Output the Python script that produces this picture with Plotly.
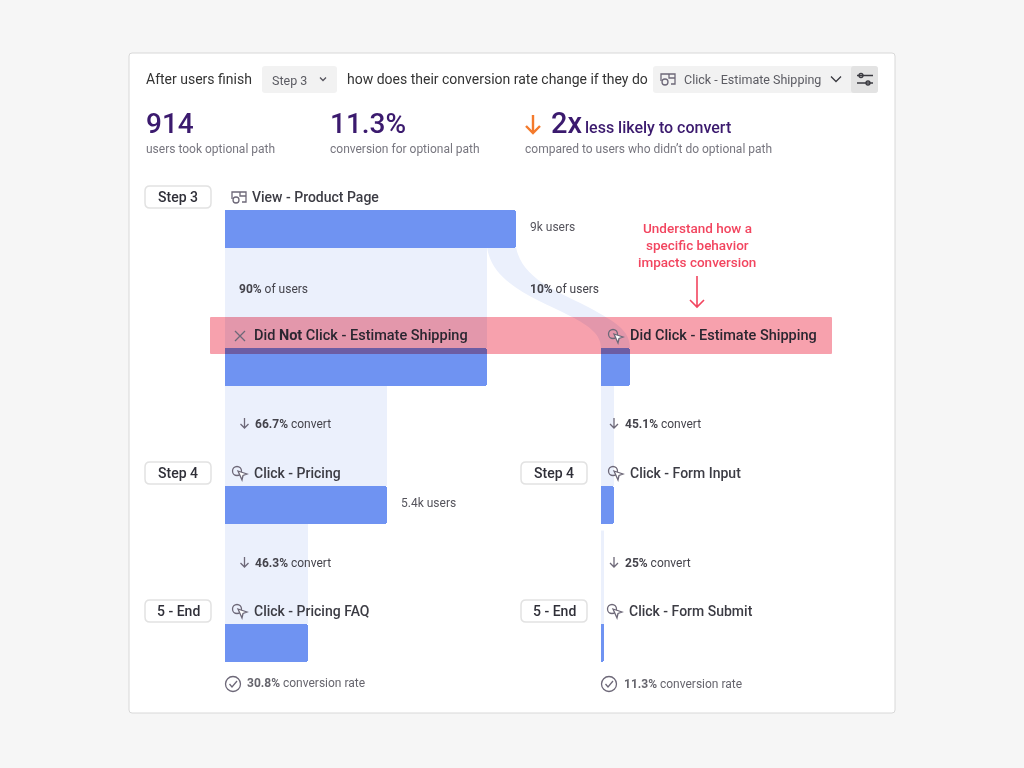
import plotly.graph_objects as go

#--------------------------------------------------
#   data
#--------------------------------------------------
rows = [0, 1, 2, 3]
took_path_no = [9000, 8100, 5000, 2570]   # did not click column
took_path_yes = [900, 400, 90]            # did click column

step_labels = ['Step 3', 'Step 4', '5 - End']
left_names = ['View - Product Page', 'Click - Pricing', 'Click - Pricing FAQ']
right_names = ['Click - Form Input', 'Click - Form Submit']
left_convert = ['66.7%', '46.3%']
right_convert = ['45.1%', '25%']
final_rates = ['30.8%', '11.3%']

#--------------------------------------------------
#   colours, fonts, axis scaling
#--------------------------------------------------
FONT = 'Roboto'
BLUE = '#6f93f2'
BAND = '#ebf0fc'
RED = '#f2455f'
PINK = '#f7a1ad'
PURPLE = '#3b1a6e'
DARK = '#2f2f38'
GREY = '#77767f'
ICON = '#6d6878'

W, H = 1024, 768
users_per_px = 9000 / 291
row_px = 138
row0_px = 228.5
bar_h = 38

shapes = []
notes = []


def text(x, y, s, size=12, color=DARK, weight=400, anchor='left'):
    notes.append(dict(x=x, y=y, xref='x', yref='y', text=s, showarrow=False, xanchor=anchor, yanchor='middle',
                      borderpad=0, borderwidth=0,
                      font=dict(family=FONT, size=size, color=color, weight=weight)))


def stroke(path, color=ICON, width=1.3, fill='rgba(0,0,0,0)'):
    shapes.append(dict(type='path', path=path, xref='x', yref='y', line=dict(color=color, width=width), fillcolor=fill))


def box(x0, y0, x1, y1, r=3, fill='white', line='rgba(0,0,0,0)', width=1, layer='above'):
    p = (f'M{x0 + r},{y0} L{x1 - r},{y0} Q{x1},{y0} {x1},{y0 + r} L{x1},{y1 - r} Q{x1},{y1} {x1 - r},{y1} '
         f'L{x0 + r},{y1} Q{x0},{y1} {x0},{y1 - r} L{x0},{y0 + r} Q{x0},{y0} {x0 + r},{y0} Z')
    shapes.append(dict(type='path', path=p, xref='x', yref='y', fillcolor=fill, line=dict(color=line, width=width), layer=layer))


def circle(cx, cy, r, color=ICON, width=1.3):
    shapes.append(dict(type='circle', x0=cx - r, x1=cx + r, y0=cy - r, y1=cy + r, xref='x', yref='y',
                       line=dict(color=color, width=width)))


def cursor_icon(cx, cy):
    circle(cx - 3, cy - 2, 4.5)
    stroke(f'M{cx - 2},{cy - 2} L{cx + 7},{cy + 1} L{cx + 3},{cy + 2.5} L{cx + 2},{cy + 7} Z', fill='white')


def view_icon(cx, cy):
    stroke(f'M{cx - 7},{cy + 2} L{cx - 7},{cy - 5} L{cx + 7},{cy - 5} L{cx + 7},{cy + 5} L{cx + 3},{cy + 5}')
    stroke(f'M{cx + 1},{cy - 5} L{cx + 1},{cy - 1} L{cx + 7},{cy - 1}')
    circle(cx - 3, cy + 3, 3)


def down_arrow(cx, y0, y1, color=ICON, width=1.3, head=4):
    stroke(f'M{cx},{y0} L{cx},{y1} M{cx - head},{y1 - head} L{cx},{y1} L{cx + head},{y1 - head}', color=color, width=width)


def chevron(cx, cy, s=4, color='#55535c', width=1.3):
    stroke(f'M{cx - s},{cy - s / 2} L{cx},{cy + s / 2} L{cx + s},{cy - s / 2}', color=color, width=width)


def check_icon(cx, cy):
    circle(cx, cy, 7.5)
    stroke(f'M{cx - 3.5},{cy} L{cx - 1},{cy + 3} L{cx + 4},{cy - 3}')


def chip(x0, cy, s):
    box(x0, cy - 11, x0 + 66, cy + 11, r=5, fill='white', line='#e2e2e2', width=1.5)
    text(x0 + 33, cy, s, size=14, weight=500, anchor='center')


#--------------------------------------------------
#   card and header
#--------------------------------------------------
box(129, 53, 895, 713, r=3, fill='white', line='#d8d8d8', layer='below')

text(146, 79, 'After users finish', size=14, color='#333')
box(262, 66, 337, 93, fill='#f2f2f2')
text(272, 80, 'Step 3', size=12.5, color='#5b5b62')
chevron(323, 79, s=3)
text(347, 79, 'how does their conversion rate change if they do', size=14, color='#333')
box(653, 66, 878, 93, fill='#f2f2f2')
box(851, 66, 878, 93, fill='#e3e3e3')
view_icon(668, 79)
text(684, 79, 'Click - Estimate Shipping', size=12.5, color='#5b5b62')
chevron(836, 79, s=5, color='#3a3a40')
stroke('M857,75.5 L873,75.5 M857,83 L873,83', color='#3a3a40')
circle(861, 75.5, 2, color='#3a3a40')
circle(868, 83, 2, color='#3a3a40')

text(146, 123, '914', size=28, color=PURPLE, weight=500)
text(330, 123, '11.3%', size=28, color=PURPLE, weight=500)
down_arrow(533, 115, 133, color='#f47a2c', width=2.4, head=7)
text(551, 123, '2x', size=29, color=PURPLE, weight=500)
text(585, 127, 'less likely to convert', size=16, color=PURPLE, weight=500)
text(146, 149, 'users took optional path', size=12, color=GREY)
text(330, 149, 'conversion for optional path', size=12, color=GREY)
text(525, 149, 'compared to users who didn’t do optional path', size=12, color=GREY)

#--------------------------------------------------
#   flow from the first bar across to the right column
#--------------------------------------------------
shapes.append(dict(type='path', xref='x', yref='y', layer='below', fillcolor=BAND, line=dict(width=0),
                   path='M487,247 C492,285 540,300 570,316 C590,326 601,335 601,348 L630,348 '
                        'C630,330 615,322 590,308 C560,292 522,280 516,247 Z'))

#--------------------------------------------------
#   highlight strip (multiplied over the funnel in the page, see post_script)
#--------------------------------------------------
box(210, 317, 832, 354, r=1, fill=PINK)
# small gap at the top of the last right band
box(600, 524, 606, 530.5, r=0)

#--------------------------------------------------
#   labels
#--------------------------------------------------
chip(145, 197, step_labels[0])
chip(145, 473, step_labels[1])
chip(145, 611, step_labels[2])
chip(521, 473, step_labels[1])
chip(521, 611, step_labels[2])

view_icon(239, 197)
text(252, 197, left_names[0], size=14, weight=500, color='#3c3c44')
text(530, 227, '9k users', size=12, color='#55545c')
text(239, 289, '<b>90%</b> of users', size=12, color='#44434b')
text(530, 289, '<b>10%</b> of users', size=12, color='#44434b')

for i, line in enumerate(['Understand how a', 'specific behavior', 'impacts conversion']):
    text(697, 228 + 17 * i, line, size=13.5, color=RED, weight=500, anchor='center')
down_arrow(697, 276, 307, color=RED, width=1.6, head=7)

stroke('M235,331 L245,341 M245,331 L235,341')
text(254, 335, 'Did <b>Not</b> Click - Estimate Shipping', size=14.5, weight=500, color='#2a2630')
cursor_icon(616, 336)
text(630, 335, 'Did Click - Estimate Shipping', size=14.5, weight=500, color='#2a2630')

for cy, cx, name in [(473, 240, left_names[1]), (611, 240, left_names[2])]:
    cursor_icon(cx, cy)
    text(cx + 14, cy, name, size=14, weight=500, color='#3c3c44')
for cy, cx, name in [(473, 616, right_names[0]), (611, 615, right_names[1])]:
    cursor_icon(cx, cy)
    text(cx + 14, cy, name, size=14, weight=500, color='#3c3c44')

text(401, 503, '5.4k users', size=12, color='#55545c')

for cy, pct in zip([424, 563], left_convert):
    down_arrow(244.5, cy - 6, cy + 4)
    text(255, cy, f'<b>{pct}</b> convert', size=12, color='#44434b')
for cy, pct in zip([424, 563], right_convert):
    down_arrow(614, cy - 6, cy + 4)
    text(625, cy, f'<b>{pct}</b> convert', size=12, color='#44434b')

check_icon(233, 684)
text(247, 683, f'<b>{final_rates[0]}</b> conversion rate', size=12, color='#66656d')
check_icon(609, 684)
text(624, 684, f'<b>{final_rates[1]}</b> conversion rate', size=12, color='#66656d')

#--------------------------------------------------
#   plotting
#--------------------------------------------------
fig = go.Figure()


def add_bars(values, y, xaxis, color, width_px, radius=0):
    fig.add_trace(go.Bar(x=values, y=y, orientation='h', width=width_px / row_px, xaxis=xaxis, yaxis='y2',
                         marker=dict(color=color, cornerradius=radius, line=dict(width=0)),
                         hoverinfo='skip', showlegend=False))


# each band runs above its bar, as wide as the bar it leads into
band_h = row_px - bar_h
add_bars(took_path_no[1:], [r - 0.5 for r in rows[1:]], 'x2', BAND, band_h)
add_bars(took_path_yes[1:], [r - 0.5 for r in rows[2:]], 'x3', BAND, band_h)
add_bars(took_path_no, rows, 'x2', BLUE, bar_h, radius=3)
add_bars(took_path_yes, rows[1:], 'x3', BLUE, bar_h, radius=3)

hidden = dict(visible=False, domain=[0, 1], fixedrange=True)
fig.update_layout(
    width=W, height=H, margin=dict(l=0, r=0, t=0, b=0), autosize=False,
    paper_bgcolor='#f6f6f6', plot_bgcolor='rgba(0,0,0,0)',
    barmode='overlay', bargap=0, showlegend=False,
    shapes=shapes, annotations=notes,
    xaxis=dict(range=[0, W], **hidden),
    yaxis=dict(range=[H, 0], **hidden),
    xaxis2=dict(range=[-225 * users_per_px, (W - 225) * users_per_px], overlaying='x', **hidden),
    xaxis3=dict(range=[-601 * users_per_px, (W - 601) * users_per_px], overlaying='x', **hidden),
    yaxis2=dict(range=[(H - row0_px) / row_px, -row0_px / row_px], overlaying='y', **hidden),
)

page_js = """
document.body.style.margin = '0';
document.querySelectorAll('.shapelayer path').forEach(function (p) {
    if (p.style.fill.replace(/ /g, '') === 'rgb(247,161,173)') {
        // the clip-path on the shape's group isolates it, so blend the group
        var g = p.parentNode;
        while (g && !g.classList.contains('shapelayer')) { g.style.mixBlendMode = 'multiply'; g = g.parentNode; }
    }
});
"""
fig.write_html('out.html', post_script=page_js, config=dict(displayModeBar=False))
